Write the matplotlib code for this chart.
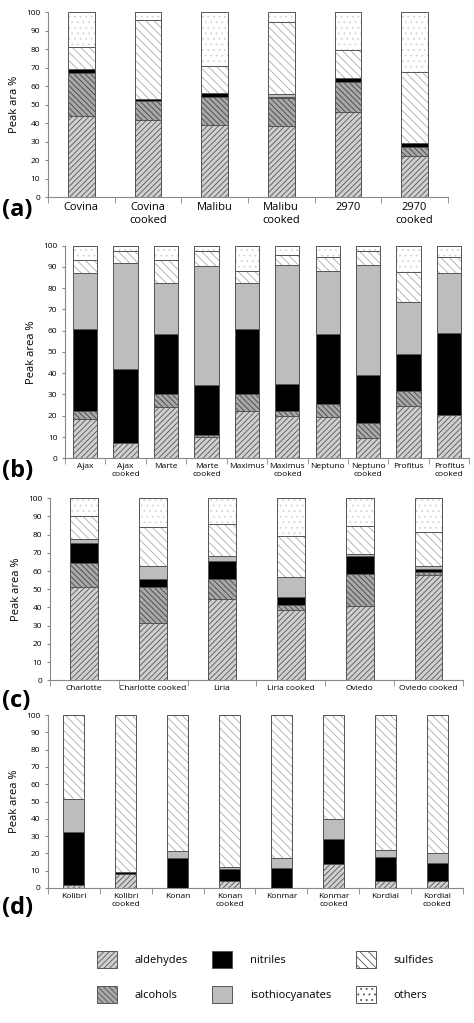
import matplotlib
matplotlib.use("Agg")
import matplotlib.pyplot as plt
import numpy as np
from matplotlib.patches import Patch

plt.rcParams['font.family'] = ['Open Sans', 'DejaVu Sans']
plt.rcParams['hatch.linewidth'] = 0.6

groups = ["aldehydes", "alcohols", "nitriles", "isothiocyanates", "sulfides", "others"]

# cumulative tops per class (bottom to top)
cats_a = ["Covina", "Covina\ncooked", "Malibu", "Malibu\ncooked", "2970", "2970\ncooked"]
cum_a = [[44, 67, 69.5, 69.5, 81, 100],
         [42, 52, 53, 53, 96, 100],
         [39, 54.5, 56.5, 56.5, 71, 100],
         [38.5, 53.5, 54.5, 56, 95, 100],
         [46, 62.5, 64.5, 64.5, 79.5, 100],
         [22.5, 27, 29.5, 29.5, 67.5, 100]]
cats_b = ["Ajax", "Ajax\ncooked", "Marte", "Marte\ncooked", "Maximus", "Maximus\ncooked",
          "Neptuno", "Neptuno\ncooked", "Profitus", "Profitus\ncooked"]
cum_b = [[18.5, 22, 61, 87, 93, 100],
         [7, 7, 42, 92, 97.5, 100],
         [24, 30, 58.5, 82.5, 93, 100],
         [10, 11, 34.5, 90.5, 97.5, 100],
         [22, 30, 61, 82.5, 88, 100],
         [20, 22, 35, 91, 95.5, 100],
         [19.5, 25.5, 58.5, 88, 94.5, 100],
         [9.5, 16.5, 39, 91, 97.5, 100],
         [24.5, 31.5, 49, 73.5, 87.5, 100],
         [20.5, 20.5, 59, 87, 94.5, 100]]
cats_c = ["Charlotte", "Charlotte cooked", "Liria", "Liria cooked", "Oviedo", "Oviedo cooked"]
cum_c = [[51.5, 64.5, 75.5, 77.5, 90, 100],
         [31.5, 51.5, 55.5, 63, 84, 100],
         [44.5, 55.5, 65.5, 68.5, 86, 100],
         [38.5, 41.5, 45.5, 57, 79.5, 100],
         [41, 58.5, 68, 69.5, 85, 100],
         [58, 59.5, 61, 62.5, 81.5, 100]]
cats_d = ["Kolibri", "Kolibri\ncooked", "Konan", "Konan\ncooked", "Konmar", "Konmar\ncooked",
          "Kordial", "Kordial\ncooked"]
cum_d = [[1.5, 1.5, 32.5, 51.5, 100, 100],
         [8, 8, 9.5, 9.5, 100, 100],
         [0, 0, 17.5, 21.5, 100, 100],
         [4, 4, 11, 12, 100, 100],
         [0, 0, 11.5, 17.5, 100, 100],
         [14, 14, 28.5, 40, 100, 100],
         [4, 4, 18, 22, 100, 100],
         [4, 4, 14.5, 20.5, 100, 100]]

styles = {
    "aldehydes": dict(facecolor="#d0d0d0", hatch="//////", edgecolor="#555555"),
    "alcohols": dict(facecolor="#a8a8a8", hatch="\\\\\\\\\\\\", edgecolor="#444444"),
    "nitriles": dict(facecolor="black", hatch=None, edgecolor="black"),
    "isothiocyanates": dict(facecolor="#bdbdbd", hatch=None, edgecolor="#777777"),
    "sulfides": dict(facecolor="white", hatch="\\\\\\\\", edgecolor="#aaaaaa"),
    "others": dict(facecolor="white", hatch="...", edgecolor="#d4d4d4"),
}

fig = plt.figure(figsize=(4.74, 10.23), dpi=100)

def panel(rect, cats, cum, label, ylabel, width, xfs, lab_pos):
    ax = fig.add_axes(rect)
    cum = np.array(cum, dtype=float)
    x = np.arange(len(cats))
    prev = np.zeros(len(cats))
    for i, g in enumerate(groups):
        h = cum[:, i] - prev
        st = styles[g]
        ax.bar(x, h, width, bottom=prev, facecolor=st["facecolor"], hatch=st["hatch"],
               edgecolor=st["edgecolor"], linewidth=0.4)
        ax.bar(x, h, width, bottom=prev, facecolor="none", edgecolor="#555555", linewidth=0.7)
        prev = cum[:, i]
    ax.set_ylim(0, 100)
    ax.set_xlim(-0.5, len(cats) - 0.5)
    ax.set_yticks(range(0, 101, 10))
    ax.tick_params(axis='y', labelsize=6, length=2, color="#888888")
    ax.set_xticks(x)
    ax.set_xticklabels(cats, fontsize=xfs)
    ax.tick_params(axis='x', length=0)
    ax.set_xticks(np.arange(len(cats) + 1) - 0.5, minor=True)
    ax.tick_params(axis='x', which='minor', length=4, color="#888888")
    for s in ["top", "right"]:
        ax.spines[s].set_visible(False)
    for s in ["left", "bottom"]:
        ax.spines[s].set_color("#888888")
    ax.set_ylabel(ylabel, fontsize=8)
    fig.text(lab_pos[0], lab_pos[1], label, fontsize=17, fontweight="bold", ha="left", va="center")
    return ax

panel([0.101, 0.807, 0.844, 0.181], cats_a, cum_a, "(a)", "Peak ara %", 0.4, 8, (0.005, 0.795))
panel([0.137, 0.552, 0.853, 0.208], cats_b, cum_b, "(b)", "Peak area %", 0.6, 6, (0.005, 0.540))
panel([0.105, 0.335, 0.872, 0.178], cats_c, cum_c, "(c)", "Peak area %", 0.4, 6, (0.005, 0.315))
panel([0.101, 0.132, 0.876, 0.169], cats_d, cum_d, "(d)", "Peak area %", 0.4, 6, (0.005, 0.112))

handles = [Patch(facecolor=styles[g]["facecolor"], hatch=styles[g]["hatch"],
                 edgecolor="#555555", linewidth=0.7, label=g) for g in groups]
fig.legend(handles=handles, ncol=3, loc="center", bbox_to_anchor=(0.56, 0.045),
           frameon=False, fontsize=8, handlelength=1.8, handleheight=2.0,
           columnspacing=2.2, labelspacing=1.6, handletextpad=1.6)

fig.savefig("out.png", dpi=100)
